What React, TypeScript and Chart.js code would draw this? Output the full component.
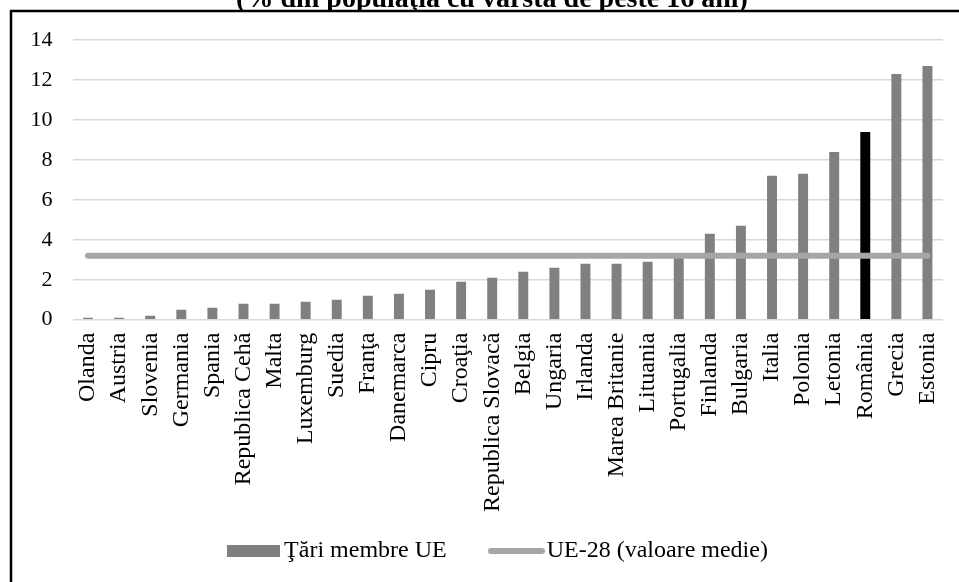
import React, { useEffect, useRef } from "react";
import { Chart, registerables } from "chart.js";

Chart.register(...registerables);

const titleText = "(% din populaţia cu vârsta de peste 16 ani)";

const categories = [
  "Olanda", "Austria", "Slovenia", "Germania", "Spania", "Republica Cehă", "Malta",
  "Luxemburg", "Suedia", "Franţa", "Danemarca", "Cipru", "Croaţia", "Republica Slovacă",
  "Belgia", "Ungaria", "Irlanda", "Marea Britanie", "Lituania", "Portugalia", "Finlanda",
  "Bulgaria", "Italia", "Polonia", "Letonia", "România", "Grecia", "Estonia",
];

const values = [
  0.1, 0.1, 0.2, 0.5, 0.6, 0.8, 0.8,
  0.9, 1.0, 1.2, 1.3, 1.5, 1.9, 2.1,
  2.4, 2.6, 2.8, 2.8, 2.9, 3.1, 4.3,
  4.7, 7.2, 7.3, 8.4, 9.4, 12.3, 12.7,
];

const averageValue = 3.2;
const highlighted = "România";

const barLabel = "Ţări membre UE";
const lineLabel = "UE-28 (valoare medie)";

const yMin = 0;
const yMax = 14;
const yStep = 2;

const FONT = "'Liberation Serif', 'Times New Roman', serif";
const BAR_COLOR = "#808080";
const HIGHLIGHT_COLOR = "#000000";
const LINE_COLOR = "#a6a6a6";
const GRID_COLOR = "#d9d9d9";

const framePlugin = {
  id: "frame",
  afterLayout(chart: any) {
    if (chart.legend) {
      chart.legend.left += 30;
      chart.legend.right += 30;
    }
    if (chart.scales && chart.scales.x) {
      chart.scales.x.bottom = chart.height;
    }
  },
  beforeDraw(chart: any) {
    const { ctx, width, height } = chart;
    ctx.save();
    ctx.fillStyle = "#ffffff";
    ctx.fillRect(0, 0, width, height);
    ctx.font = `bold 28px ${FONT}`;
    ctx.fillStyle = "#000000";
    ctx.textAlign = "center";
    ctx.textBaseline = "alphabetic";
    ctx.fillText(titleText, 492, 7);
    ctx.fillStyle = "#ffffff";
    ctx.fillRect(11, 11, width, height);
    ctx.lineWidth = 2.5;
    ctx.strokeStyle = "#000000";
    ctx.strokeRect(11, 11, width + 40, height + 40);
    ctx.restore();
  },
};

function makeBarSwatch() {
  const c = document.createElement("canvas");
  c.width = 53;
  c.height = 12;
  const g = c.getContext("2d")!;
  g.fillStyle = BAR_COLOR;
  g.fillRect(0, 0, 53, 12);
  return c;
}

function makeLineSwatch() {
  const c = document.createElement("canvas");
  c.width = 57;
  c.height = 8;
  const g = c.getContext("2d")!;
  g.strokeStyle = LINE_COLOR;
  g.lineWidth = 6;
  g.lineCap = "round";
  g.beginPath();
  g.moveTo(3, 4);
  g.lineTo(54, 4);
  g.stroke();
  return c;
}

export default function App() {
  const ref = useRef<HTMLCanvasElement | null>(null);

  useEffect(() => {
    if (!ref.current) return;
    const barSwatch = makeBarSwatch();
    const lineSwatch = makeLineSwatch();
    const chart = new Chart(ref.current, {
      type: "bar",
      data: {
        labels: categories,
        datasets: [
          {
            type: "bar",
            label: barLabel,
            data: values,
            backgroundColor: categories.map((c) => (c === highlighted ? HIGHLIGHT_COLOR : BAR_COLOR)),
            borderWidth: 0,
            barPercentage: 0.32,
            categoryPercentage: 1,
            order: 2,
          },
          {
            type: "line",
            label: lineLabel,
            data: categories.map(() => averageValue),
            borderColor: LINE_COLOR,
            backgroundColor: LINE_COLOR,
            borderWidth: 6,
            borderCapStyle: "round",
            pointRadius: 0,
            pointHoverRadius: 0,
            fill: false,
            order: 1,
          },
        ],
      } as any,
      options: {
        responsive: false,
        animation: false,
        layout: { autoPadding: false, padding: { top: 40, right: 16, bottom: 9, left: 0 } },
        plugins: {
          title: { display: false },
          tooltip: { enabled: false },
          legend: {
            position: "bottom",
            labels: {
              font: { family: FONT, size: 24 },
              color: "#000000",
              usePointStyle: true,
              pointStyleWidth: 37,
              boxHeight: 12,
              padding: 51,
              generateLabels: () => [
                {
                  text: barLabel,
                  fillStyle: BAR_COLOR,
                  strokeStyle: BAR_COLOR,
                  lineWidth: 0,
                  pointStyle: barSwatch,
                  datasetIndex: 0,
                  hidden: false,
                },
                {
                  text: lineLabel,
                  fillStyle: LINE_COLOR,
                  strokeStyle: LINE_COLOR,
                  lineWidth: 0,
                  pointStyle: lineSwatch,
                  datasetIndex: 1,
                  hidden: false,
                },
              ] as any,
            },
          },
        },
        scales: {
          x: {
            grid: { display: false, drawTicks: false },
            border: { display: false },
            ticks: {
              minRotation: 90,
              maxRotation: 90,
              autoSkip: false,
              padding: 13,
              color: "#000000",
              font: { family: FONT, size: 24 },
            },
            afterFit: (scale: any) => {
              scale.height = 168.3;
              scale.paddingLeft = 0;
              scale.paddingRight = 0;
            },
          },
          y: {
            min: yMin,
            max: yMax,
            grid: { color: GRID_COLOR, lineWidth: 1.5, drawTicks: false },
            border: { display: false },
            ticks: {
              stepSize: yStep,
              padding: 20,
              color: "#000000",
              font: { family: FONT, size: 22 },
            },
            afterFit: (scale: any) => {
              scale.width = 72.5;
            },
          },
        },
      } as any,
      plugins: [framePlugin],
    });
    return () => chart.destroy();
  }, []);

  return (
    <div style={{ position: "fixed", left: 0, top: 0, width: 959, height: 582, background: "#fff" }}>
      <canvas ref={ref} width={959} height={582} style={{ display: "block" }} />
    </div>
  );
}
